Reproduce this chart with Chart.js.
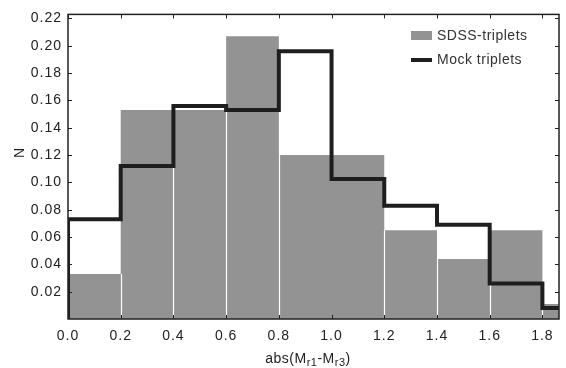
<!DOCTYPE html>
<html>
<head>
<meta charset="utf-8">
<script src="https://cdn.jsdelivr.net/npm/chart.js@4.4.0/dist/chart.umd.min.js"></script>
<style>
  html, body { margin: 0; padding: 0; background: #fff; }
</style>
</head>
<body>
<canvas id="histChart" width="566" height="368"></canvas>
<script>
// SDSS histogram: bin edges and heights (0.8-1.2 shows as one block)
const sdssEdges = [0.0, 0.2, 0.4, 0.6, 0.8, 1.2, 1.4, 1.6, 1.8, 1.863];
const sdssValues = [0.033, 0.153, 0.153, 0.207, 0.120, 0.065, 0.044, 0.065, 0.011];

// Mock triplets step line
const mockEdges = [0.0, 0.2, 0.4, 0.6, 0.8, 1.0, 1.2, 1.4, 1.6, 1.8, 1.863];
const mockValues = [0.073, 0.112, 0.156, 0.153, 0.196, 0.1025, 0.083, 0.069, 0.026, 0.008];

const xTicks = [0.0, 0.2, 0.4, 0.6, 0.8, 1.0, 1.2, 1.4, 1.6, 1.8];
const yTicks = [0.02, 0.04, 0.06, 0.08, 0.10, 0.12, 0.14, 0.16, 0.18, 0.20, 0.22];
const seriesNames = ['SDSS-triplets', 'Mock triplets'];

const FONT = "'Liberation Sans', Arial, sans-serif";
const GREY = '#939393';
const INK = '#1e1e1e';

Chart.defaults.font.family = FONT;
Chart.defaults.font.size = 14;
Chart.defaults.color = '#222';

// turn edges + values into points for a stepped line
function stepPoints(edges, values, fromZero) {
    let pts = fromZero ? [{x: edges[0], y: 0}] : [];
    values.forEach((v, i) => pts.push({x: edges[i], y: v}));
    pts.push({x: edges[edges.length - 1], y: values[values.length - 1]});
    return pts;
}

// white gaps between histogram bars, frame, inner ticks, titles, legend
let decoPlugin = {
    id: 'deco',
    beforeDraw(chart) {
        chart.ctx.letterSpacing = '1px';
    },
    afterDatasetDraw(chart, args) {
        if (args.index !== 1) return;
        let ctx = chart.ctx, x = chart.scales.x, y = chart.scales.y;
        ctx.save();
        ctx.strokeStyle = '#fff';
        ctx.lineWidth = 1.2;
        for (let i = 1; i < sdssEdges.length - 1; i++) {
            let px = Math.round(x.getPixelForValue(sdssEdges[i])) + 0.5;
            let h = Math.min(sdssValues[i - 1], sdssValues[i]);
            ctx.beginPath();
            ctx.moveTo(px, y.getPixelForValue(0));
            ctx.lineTo(px, y.getPixelForValue(h));
            ctx.stroke();
        }
        ctx.restore();
    },
    afterDraw(chart) {
        let ctx = chart.ctx, a = chart.chartArea, x = chart.scales.x, y = chart.scales.y;
        ctx.save();
        ctx.letterSpacing = '0px';
        ctx.strokeStyle = '#222';
        ctx.lineWidth = 1.5;
        ctx.strokeRect(a.left, a.top, a.right - a.left, a.bottom - a.top);
        ctx.lineWidth = 1;
        ctx.beginPath();
        xTicks.forEach(v => {
            let px = Math.round(x.getPixelForValue(v)) + 0.5;
            ctx.moveTo(px, a.bottom); ctx.lineTo(px, a.bottom - 4);
            ctx.moveTo(px, a.top); ctx.lineTo(px, a.top + 4);
        });
        yTicks.forEach(v => {
            let py = Math.round(y.getPixelForValue(v)) + 0.5;
            ctx.moveTo(a.left, py); ctx.lineTo(a.left + 4, py);
            ctx.moveTo(a.right, py); ctx.lineTo(a.right - 4, py);
        });
        ctx.stroke();

        // y title
        ctx.fillStyle = '#222';
        ctx.font = '14px ' + FONT;
        ctx.textAlign = 'center';
        ctx.textBaseline = 'middle';
        ctx.save();
        ctx.translate(20, 153);
        ctx.rotate(-Math.PI / 2);
        ctx.fillText('N', 0, 0);
        ctx.restore();

        // x title with subscripts: abs(Mr1-Mr3)
        let parts = [['abs(M', 0], ['r1', 1], ['-M', 0], ['r3', 1], [')', 0]];
        ctx.letterSpacing = '0.5px';
        ctx.textAlign = 'left';
        ctx.textBaseline = 'alphabetic';
        let widths = parts.map(p => {
            ctx.font = (p[1] ? '11px ' : '14px ') + FONT;
            return ctx.measureText(p[0]).width;
        });
        let total = widths.reduce((s, w) => s + w, 0);
        let tx = 308 - total / 2;
        parts.forEach((p, i) => {
            ctx.font = (p[1] ? '11px ' : '14px ') + FONT;
            ctx.fillText(p[0], tx, p[1] ? 366 : 363);
            tx += widths[i];
        });

        // legend
        ctx.font = '14px ' + FONT;
        ctx.textBaseline = 'middle';
        ctx.fillStyle = GREY;
        ctx.fillRect(411, 31, 21, 9);
        ctx.fillStyle = INK;
        ctx.fillRect(411, 58, 21, 4);
        ctx.fillStyle = '#333';
        ctx.fillText(seriesNames[0], 437, 36);
        ctx.fillText(seriesNames[1], 437, 60);
        ctx.restore();
    }
};

let histCtx = document.getElementById('histChart');
let histConfig = {
    type: 'line',
    data: {
        datasets: [{
            label: seriesNames[1],
            data: stepPoints(mockEdges, mockValues, true),
            stepped: 'before',
            borderColor: INK,
            borderWidth: 4,
            borderJoinStyle: 'miter',
            pointRadius: 0,
            fill: false,
            order: 0
        }, {
            label: seriesNames[0],
            data: stepPoints(sdssEdges, sdssValues, false),
            stepped: 'before',
            borderWidth: 0,
            borderColor: 'rgba(0,0,0,0)',
            backgroundColor: GREY,
            fill: 'origin',
            pointRadius: 0,
            order: 1
        }]
    },
    options: {
        responsive: false,
        animation: false,
        layout: { padding: { top: 6, right: 7, left: 0, bottom: 0 } },
        plugins: { legend: { display: false }, tooltip: { enabled: false } },
        scales: {
            x: {
                type: 'linear',
                min: 0,
                max: 1.863,
                grid: { display: false, drawTicks: false },
                border: { display: false },
                afterBuildTicks: s => { s.ticks = xTicks.map(v => ({value: v})); },
                afterFit: s => { s.height = 49; },
                ticks: {
                    padding: 9,
                    maxRotation: 0,
                    autoSkip: false,
                    callback: v => Number(v).toFixed(1)
                }
            },
            y: {
                min: 0,
                max: 0.223,
                grid: { display: false, drawTicks: false },
                border: { display: false },
                afterBuildTicks: s => { s.ticks = yTicks.map(v => ({value: v})); },
                afterFit: s => { s.width = 68; },
                ticks: {
                    padding: 6,
                    callback: v => Number(v).toFixed(2)
                }
            }
        }
    },
    plugins: [decoPlugin]
};
let histChart = new Chart(histCtx, histConfig);
</script>
</body>
</html>
